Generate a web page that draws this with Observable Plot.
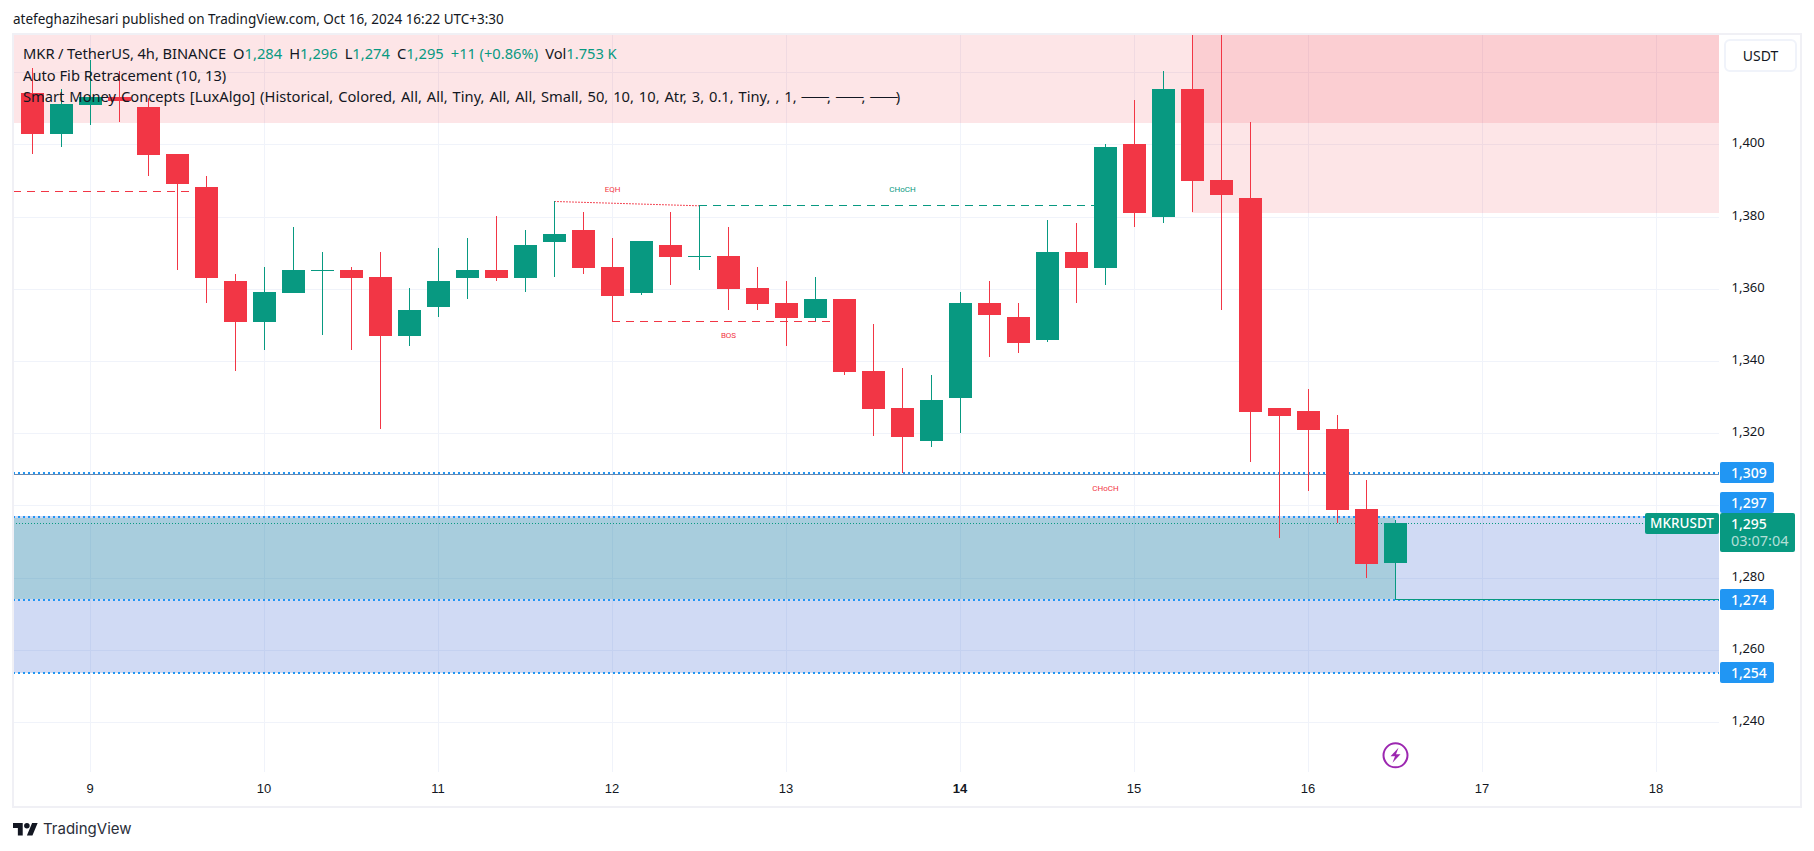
<!DOCTYPE html>
<html>
<head>
<meta charset="utf-8">
<script src="https://cdn.jsdelivr.net/npm/d3@7"></script>
<script src="https://cdn.jsdelivr.net/npm/@observablehq/plot@0.6"></script>
<style>
html,body{margin:0;padding:0;background:#fff;overflow:hidden}
#root{position:relative;width:1814px;height:851px;font-family:"Noto Sans",sans-serif;color:#131722}
#root svg.plot{position:absolute;left:0;top:0}
.ov{position:absolute;white-space:pre;line-height:1}
.hd{font-size:14.7px;color:#131722}
.up{color:#089981}
.dash{letter-spacing:-1.9px}
.tag{position:absolute;box-sizing:border-box;color:#fff;font-size:14px;font-weight:500;border-radius:2px;white-space:pre;line-height:21px;height:21px}
</style>
</head>
<body>
<div id="root"></div>
<script>
const RED = "#f23645", GREEN = "#089981", BLUE = "#2196f3";

// 4h bars, counted from Oct 9 00:00
const barIndex = d3.range(-2, 46);
const opens  = [1414.2,1402.9,1410.9,1413.1,1410.3,1397.3,1388.2,1362.1,1350.8,1358.8,1364.9,1365.2,1363.2,1346.9,1354.9,1363.0,1365.2,1363.0,1372.9,1376.3,1366.0,1358.8,1372.1,1368.8,1369.1,1360.2,1356.0,1351.9,1357.2,1337.2,1327.0,1317.8,1329.7,1356.0,1352.2,1345.8,1370.2,1365.8,1400.1,1379.9,1415.3,1390.1,1385.1,1327.0,1326.1,1321.1,1299.0,1284.0];
const highs  = [1421.1,1415.3,1423.3,1420.3,1412.8,1397.3,1391.2,1364.1,1366.0,1377.1,1370.2,1366.0,1370.2,1360.2,1371.3,1374.0,1380.1,1376.3,1384.3,1381.3,1374.0,1373.2,1381.3,1383.1,1377.1,1366.0,1362.1,1363.2,1357.2,1350.2,1338.0,1336.1,1359.1,1362.1,1356.0,1379.0,1378.2,1400.1,1412.3,1420.3,1440.0,1440.0,1406.2,1327.0,1332.2,1325.0,1307.0,1296.0];
const lows   = [1397.3,1399.3,1405.3,1406.2,1391.2,1365.2,1356.0,1337.2,1343.0,1358.8,1347.2,1343.0,1321.1,1344.1,1352.2,1357.2,1362.1,1359.1,1363.2,1364.1,1351.1,1358.3,1361.1,1365.2,1354.1,1354.1,1344.1,1351.1,1336.1,1319.2,1309.0,1316.2,1320.0,1341.1,1342.2,1345.2,1356.0,1361.1,1377.1,1378.2,1381.3,1354.1,1312.0,1291.0,1304.0,1295.1,1279.9,1274.0];
const closes = [1402.9,1411.2,1413.1,1412.1,1397.0,1389.0,1363.0,1350.8,1359.1,1365.2,1365.2,1363.0,1346.9,1354.1,1362.1,1365.2,1363.0,1372.1,1375.2,1365.8,1358.0,1373.2,1368.8,1369.1,1359.9,1355.8,1351.9,1357.2,1336.9,1326.7,1318.9,1329.2,1356.0,1352.7,1345.0,1370.2,1365.8,1399.3,1381.0,1415.3,1389.8,1386.0,1325.9,1324.7,1320.9,1298.7,1283.8,1295.0];

const yTicks = [1240,1260,1280,1300,1320,1340,1360,1380,1400,1420];
const yLabels = [1240,1260,1280,1320,1340,1360,1380,1400];
const dayTicks = [9,10,11,12,13,14,15,16,17,18];
const priceLevels = [1309,1297,1274,1253.7];
const priceTags = [["1,309",1309],["1,297",1300.8],["1,274",1274],["1,254",1253.7]];

const LEFT = 13, RIGHT = 1719, TOP = 34, BOTTOM = 772, X0 = 90, PXDAY = 174;
const DAY = 864e5, T0 = Date.UTC(2024,9,9);
const pxDate = px => new Date(T0 + (px - X0) / PXDAY * DAY);
const barDate = k => new Date(T0 + k * DAY / 6);
const dayDate = d => new Date(Date.UTC(2024,9,d));
const halfBody = 11.5 / PXDAY * DAY;
const yTop = 1400 + (144.3 - TOP) / 3.6106, yBot = 1400 - (BOTTOM - 144.3) / 3.6106;

const bars = barIndex.map((k,i) => ({k, t:barDate(k), o:opens[i], h:highs[i], l:lows[i], c:closes[i], col: closes[i] >= opens[i] ? GREEN : RED}));

const xL = pxDate(LEFT), xR = pxDate(RIGHT);
const redZones = [{x1:xL, x2:xR, y1:1406.3, y2:yTop},{x1:barDate(38), x2:xR, y1:1381.3, y2:yTop}];
const blueZone = [{x1:xL, x2:xR, y1:1253.7, y2:1297}];
const tealZone = [{x1:xL, x2:barDate(45), y1:1274, y2:1296.6}];

const dashed = [
  {x1:xL, x2:barDate(4), y:1387.0, c:RED},
  {x1:barDate(18), x2:barDate(26), y:1351.0, c:RED},
  {x1:barDate(21), x2:barDate(35), y:1383.1, c:GREEN}
];
const eqh = [{x:barDate(16), y:1384.3},{x:barDate(21), y:1383.1}];
const smcLabels = [
  {t:"EQH", x:barDate(18), y:1387.6, c:RED},
  {t:"CHoCH", x:barDate(28), y:1387.6, c:GREEN},
  {t:"BOS", x:barDate(22), y:1347.2, c:RED},
  {t:"CHoCH", x:barDate(35), y:1304.8, c:RED}
];
const earnings = [{x:barDate(45), y:1230.9}];
const bolt = {draw(ctx){ctx.moveTo(3,-7.5);ctx.lineTo(-5,1);ctx.lineTo(-0.5,1);ctx.lineTo(-3,7.5);ctx.lineTo(5,-1);ctx.lineTo(0.5,-1);ctx.closePath();}};

const FONT = "'Noto Sans',sans-serif";
const CR = "crispEdges";
const plot = Plot.plot({
  width:1814, height:851,
  marginLeft:LEFT, marginRight:1814-RIGHT, marginTop:TOP, marginBottom:851-BOTTOM,
  style:{background:"#fff", fontFamily:FONT},
  x:{type:"utc", domain:[xL,xR], range:[LEFT,RIGHT]},
  y:{type:"linear", domain:[yBot,yTop], range:[BOTTOM,TOP]},
  marks:[
    Plot.ruleY(yTicks,{stroke:"#f0f3fa", strokeWidth:1, shapeRendering:CR}),
    Plot.ruleX(dayTicks.map(dayDate),{stroke:"#f0f3fa", strokeWidth:1, shapeRendering:CR}),
    Plot.rect(blueZone,{x1:"x1",x2:"x2",y1:"y1",y2:"y2",fill:"rgb(60,100,210)",fillOpacity:0.24,shapeRendering:CR}),
    Plot.rect(tealZone,{x1:"x1",x2:"x2",y1:"y1",y2:"y2",fill:GREEN,fillOpacity:0.2,shapeRendering:CR}),
    Plot.rect(redZones,{x1:"x1",x2:"x2",y1:"y1",y2:"y2",fill:RED,fillOpacity:0.13,shapeRendering:CR}),
    Plot.ruleY(redZones,{x1:"x1",x2:"x2",y:"y1",stroke:RED,strokeOpacity:0.13,shapeRendering:CR}),
    Plot.ruleY([1309],{x1:xL,x2:xR,stroke:"#6b8ab0",strokeWidth:1,dy:1,shapeRendering:CR}),
    Plot.ruleY(priceLevels,{x1:xL,x2:xR,stroke:BLUE,strokeWidth:2,strokeDasharray:"2 3",shapeRendering:CR}),
    Plot.ruleY([1295],{x1:xL,x2:pxDate(1645),stroke:GREEN,strokeWidth:1,strokeDasharray:"1 2",shapeRendering:CR}),
    Plot.ruleY([1274],{x1:barDate(45),x2:xR,stroke:GREEN,strokeWidth:1,shapeRendering:CR}),
    Plot.ruleY(dashed,{x1:"x1",x2:"x2",y:"y",stroke:"c",strokeWidth:1,strokeDasharray:"8 6",shapeRendering:CR}),
    Plot.line(eqh,{x:"x",y:"y",stroke:RED,strokeWidth:1,strokeDasharray:"1 2"}),
    Plot.ruleX(bars,{x:"t",y1:"l",y2:"h",stroke:"col",strokeWidth:1,clip:"frame",shapeRendering:CR}),
    Plot.rect(bars,{x1:d=>new Date(+d.t-halfBody),x2:d=>new Date(+d.t+halfBody),y1:"o",y2:"c",fill:"col",shapeRendering:CR}),
    Plot.text(smcLabels,{x:"x",y:"y",text:"t",fill:"c",fontSize:8,fontFamily:"Roboto,sans-serif"}),
    Plot.dot(earnings,{x:"x",y:"y",r:12,stroke:"#9c27b0",strokeWidth:2,fill:"#fff"}),
    Plot.dot(earnings,{x:"x",y:"y",symbol:bolt,r:8,fill:"#9c27b0",stroke:"none"}),
    Plot.axisY(yLabels,{anchor:"right",tickSize:0,tickPadding:12,fontSize:13,fill:"#131722",label:null,dy:-1.5,tickFormat:d3.format(",")}),
    Plot.axisX(dayTicks.filter(d=>d!==14).map(dayDate),{anchor:"bottom",tickSize:0,tickPadding:12,fontSize:13,fill:"#131722",label:null,dy:-1,dx:-0.5,fontFamily:"'Liberation Sans',sans-serif",tickFormat:d=>String(d.getUTCDate())}),
    Plot.axisX([dayDate(14)],{anchor:"bottom",tickSize:0,tickPadding:12,fontSize:13,fontWeight:"bold",fill:"#131722",label:null,dy:-1,dx:-0.5,fontFamily:"'Liberation Sans',sans-serif",tickFormat:d=>String(d.getUTCDate())})
  ]
});
plot.classList.add("plot");
const root = document.getElementById("root");
root.appendChild(plot);

const sy = v => plot.scale("y").apply(v);
function add(html, css, cls){const e=document.createElement("div");e.className=cls||"ov";e.innerHTML=html;Object.assign(e.style,css);root.appendChild(e);return e;}

add("", {left:"11.5px",top:"32.5px",width:"1790px",height:"775px",border:"2px solid #f0f0f5",boxSizing:"border-box"});
add("atefeghazihesari published on TradingView.com, Oct 16, 2024 16:22 UTC+3:30",{left:"13px",top:"13px",fontSize:"13.5px",color:"#131722"});
add('MKR / TetherUS, 4h, BINANCE  O<span class="up">1,284</span>  H<span class="up">1,296</span>  L<span class="up">1,274</span>  C<span class="up">1,295</span>  <span class="up">+11 (+0.86%)</span>  Vol<span class="up">1.753 K</span>',{left:"23px",top:"45.5px",wordSpacing:"-0.3px"},"ov hd");
add("Auto Fib Retracement (10, 13)",{left:"23px",top:"68px"},"ov hd");
add('Smart Money Concepts [LuxAlgo] (Historical, Colored, All, All, Tiny, All, All, Small, 50, 10, 10, Atr, 3, 0.1, Tiny, , 1, <span class="dash">───</span>, <span class="dash">───</span>, <span class="dash">───</span>)',{left:"23px",top:"89px",wordSpacing:"1.1px"},"ov hd");

add("USDT",{left:"1724px",top:"39px",width:"73px",height:"33px",background:"#fff",border:"2px solid #f0f3fa",borderRadius:"6px",boxSizing:"border-box",lineHeight:"29px",textAlign:"center",fontSize:"14px"});

for (const [t,v] of priceTags) {
  add(t,{left:"1720px",top:(sy(v)-10.5)+"px",width:"54px",background:BLUE,paddingLeft:"11px"},"tag");
}
const ty = sy(1295);
add("MKRUSDT",{left:"1645px",top:(ty-10)+"px",width:"74px",background:GREEN,textAlign:"center",fontSize:"13.5px"},"tag");
add('1,295',{left:"1720px",top:(ty-10)+"px",width:"75px",background:GREEN,paddingLeft:"11px",height:"39px"},"tag");
add('03:07:04',{left:"1731px",top:(ty+7)+"px",color:"rgba(255,255,255,.7)",fontWeight:"400",fontSize:"14.5px",background:"none"},"tag");

add('<svg width="25" height="20" viewBox="0 0 36 28"><path fill="#131722" d="M14 22H7V11H0V4h14v18zM28 22h-8l7.5-18h8L28 22z"/><circle fill="#131722" cx="20" cy="8" r="4"/></svg>',{left:"13px",top:"820px"});
add("TradingView",{left:"43px",top:"821px",fontFamily:"Inter,sans-serif",fontSize:"15px",color:"#2a2e39"});
</script>
</body>
</html>
